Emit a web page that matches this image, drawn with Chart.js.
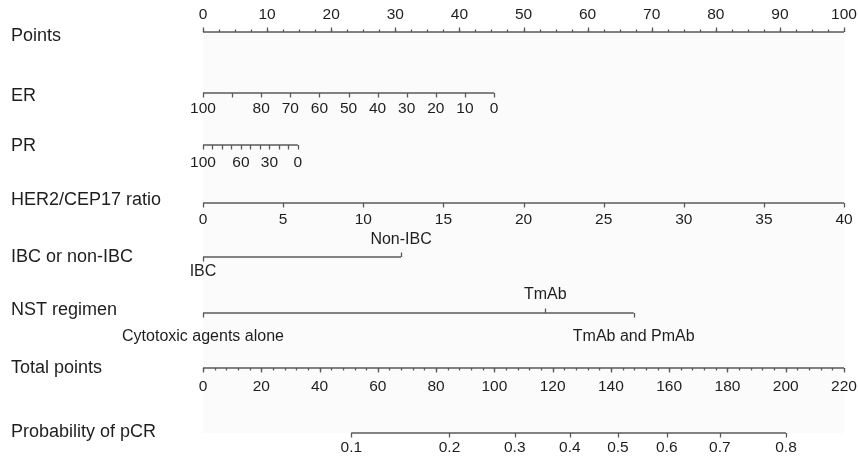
<!DOCTYPE html>
<html>
<head>
<meta charset="utf-8">
<script src="https://cdn.jsdelivr.net/npm/chart.js@4/dist/chart.umd.min.js"></script>
<style>
  html, body { margin: 0; padding: 0; background: #ffffff; }
  #wrap { width: 858px; height: 460px; }
</style>
</head>
<body>
<div id="wrap"><canvas id="c" width="858" height="460"></canvas></div>
<script>
// ---------------- DATA ----------------
// Points scale
const pointsMajor = [0, 10, 20, 30, 40, 50, 60, 70, 80, 90, 100];
const pointsMinorStep = 2.5;

// ER (%), value 0 gives the maximum points
const erValues = [100, 90, 80, 70, 60, 50, 40, 30, 20, 10, 0];
const erLabels = ['100', '', '80', '70', '60', '50', '40', '30', '20', '10', '0'];
const erMaxPoints = 45.4;

// PR (%)
const prValues = [100, 90, 80, 70, 60, 50, 40, 30, 20, 10, 0];
const prLabels = ['100', '', '', '', '60', '', '', '30', '', '', '0'];
const prMaxPoints = 14.8;

// HER2/CEP17 ratio
const her2Values = [0, 5, 10, 15, 20, 25, 30, 35, 40];
const her2MaxValue = 40;

// IBC or non-IBC
const ibcCategories = ['IBC', 'Non-IBC'];
const ibcPoints = [0, 30.9];
const ibcLabelSide = ['below', 'above'];

// NST regimen
const nstCategories = ['Cytotoxic agents alone', 'TmAb', 'TmAb and PmAb'];
const nstPoints = [0, 53.4, 67.2];
const nstLabelSide = ['below', 'above', 'below'];

// Total points
const totalMajor = [0, 20, 40, 60, 80, 100, 120, 140, 160, 180, 200, 220];
const totalMinorStep = 4;
const totalMax = 220;

// Probability of pCR and the total points where each tick sits
const probValues = ['0.1', '0.2', '0.3', '0.4', '0.5', '0.6', '0.7', '0.8'];
const probTotalPoints = [50.9, 84.6, 107.0, 125.9, 142.4, 159.2, 177.4, 200.1];

// Row titles
const rowTitles = ['Points', 'ER', 'PR', 'HER2/CEP17 ratio', 'IBC or non-IBC', 'NST regimen', 'Total points', 'Probability of pCR'];

// ---------------- LAYOUT ----------------
const rowY = [32, 93, 145, 203, 257, 313, 368, 433];
const titleDy = [4, 3, 1, -3, 0, -3, 0, -1];
const LINE = '#5a5a5a';
const TEXT = '#1e1e1e';
const FONT = '"Liberation Sans", Arial, Helvetica, sans-serif';

const erPts = v => (100 - v) / 100 * erMaxPoints;
const prPts = v => (100 - v) / 100 * prMaxPoints;
const her2Pts = v => v / her2MaxValue * 100;
const totPts = v => v / totalMax * 100;

function axisLine(x0, x1, y) {
  return {
    data: [{ x: x0, y: y }, { x: x1, y: y }],
    showLine: true, pointRadius: 0, borderColor: LINE, borderWidth: 1.4, clip: false
  };
}

const datasets = [
  axisLine(0, 100, rowY[0]),
  axisLine(erPts(erValues[0]), erPts(erValues[erValues.length - 1]), rowY[1]),
  axisLine(prPts(prValues[0]), prPts(prValues[prValues.length - 1]), rowY[2]),
  axisLine(her2Pts(her2Values[0]), her2Pts(her2Values[her2Values.length - 1]), rowY[3]),
  axisLine(ibcPoints[0], ibcPoints[ibcPoints.length - 1], rowY[4]),
  axisLine(nstPoints[0], nstPoints[nstPoints.length - 1], rowY[5]),
  axisLine(totPts(totalMajor[0]), totPts(totalMajor[totalMajor.length - 1]), rowY[6]),
  axisLine(totPts(probTotalPoints[0]), totPts(probTotalPoints[probTotalPoints.length - 1]), rowY[7])
];

const nomoPlugin = {
  id: 'nomo',
  beforeDatasetsDraw(chart) {
    const ctx = chart.ctx, xs = chart.scales.x, ys = chart.scales.y;
    ctx.save();
    ctx.fillStyle = '#fbfbfb';
    const l = xs.getPixelForValue(0), r = xs.getPixelForValue(100);
    const t = ys.getPixelForValue(rowY[0]), b = ys.getPixelForValue(rowY[7]);
    ctx.fillRect(l, t, r - l, b - t);
    ctx.restore();
  },
  afterDatasetsDraw(chart) {
    const ctx = chart.ctx, xs = chart.scales.x, ys = chart.scales.y;
    ctx.save();
    ctx.strokeStyle = LINE;
    ctx.lineWidth = 1.3;
    ctx.fillStyle = TEXT;
    ctx.textBaseline = 'middle';

    function tick(pts, row, dir, len) {
      const x = Math.round(xs.getPixelForValue(pts)) + 0.5;
      const y = ys.getPixelForValue(rowY[row]);
      ctx.beginPath();
      ctx.moveTo(x, y);
      ctx.lineTo(x, y + dir * len);
      ctx.stroke();
    }
    function label(txt, pts, row, dy, size) {
      if (!txt) return;
      ctx.font = size + 'px ' + FONT;
      ctx.textAlign = 'center';
      ctx.fillText(txt, xs.getPixelForValue(pts), ys.getPixelForValue(rowY[row]) + dy);
    }

    // Row titles
    ctx.font = '18px ' + FONT;
    ctx.textAlign = 'left';
    rowTitles.forEach((tt, i) => ctx.fillText(tt, 11, ys.getPixelForValue(rowY[i]) + titleDy[i]));

    const TS = 15.5;
    const CS = 16;
    // Points
    for (let v = 0; v <= 100 + 1e-9; v += pointsMinorStep) tick(v, 0, -1, 2.5);
    pointsMajor.forEach(v => { tick(v, 0, -1, 4.5); label(String(v), v, 0, -17, TS); });

    // ER
    erValues.forEach((v, i) => { tick(erPts(v), 1, 1, 4.5); label(erLabels[i], erPts(v), 1, 16, TS); });
    // PR
    prValues.forEach((v, i) => { tick(prPts(v), 2, 1, 4.5); label(prLabels[i], prPts(v), 2, 18, TS); });
    // HER2
    her2Values.forEach(v => { tick(her2Pts(v), 3, 1, 4.5); label(String(v), her2Pts(v), 3, 17, TS); });
    // IBC
    ibcPoints.forEach((p, i) => {
      const up = ibcLabelSide[i] === 'above';
      tick(p, 4, up ? -1 : 1, 4.5);
      label(ibcCategories[i], p, 4, up ? -17 : 15, CS);
    });
    // NST
    nstPoints.forEach((p, i) => {
      const up = nstLabelSide[i] === 'above';
      tick(p, 5, up ? -1 : 1, 4.5);
      label(nstCategories[i], p, 5, up ? -18 : 24, CS);
    });
    // Total points
    for (let v = 0; v <= totalMax + 1e-9; v += totalMinorStep) tick(totPts(v), 6, 1, 2.5);
    totalMajor.forEach(v => { tick(totPts(v), 6, 1, 4.5); label(String(v), totPts(v), 6, 19, TS); });
    // Probability
    probTotalPoints.forEach((tp, i) => { tick(totPts(tp), 7, 1, 4.5); label(probValues[i], totPts(tp), 7, 15, TS); });

    ctx.restore();
  }
};

new Chart(document.getElementById('c'), {
  type: 'scatter',
  data: { datasets: datasets },
  options: {
    responsive: false,
    animation: false,
    events: [],
    layout: { padding: { left: 203, right: 14, top: 0, bottom: 0 } },
    plugins: { legend: { display: false }, tooltip: { enabled: false } },
    scales: {
      x: { type: 'linear', min: 0, max: 100, display: false },
      y: { type: 'linear', min: 0, max: 460, reverse: true, display: false }
    }
  },
  plugins: [nomoPlugin]
});
</script>
</body>
</html>
